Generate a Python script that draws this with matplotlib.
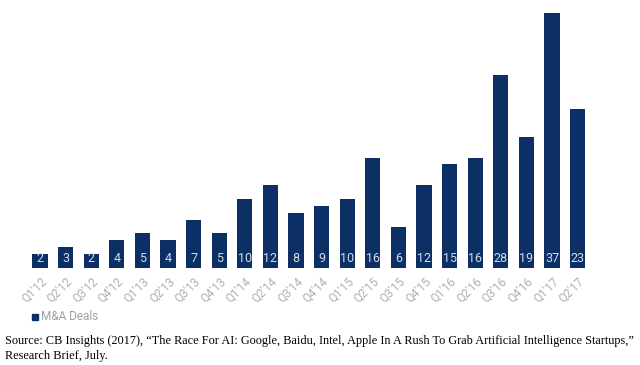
import matplotlib.pyplot as plt

quarters = ["Q1'12", "Q2'12", "Q3'12", "Q4'12", "Q1'13", "Q2'13", "Q3'13", "Q4'13",
            "Q1'14", "Q2'14", "Q3'14", "Q4'14", "Q1'15", "Q2'15", "Q3'15", "Q4'15",
            "Q1'16", "Q2'16", "Q3'16", "Q4'16", "Q1'17", "Q2'17"]
deals = [2, 3, 2, 4, 5, 4, 7, 5, 10, 12, 8, 9, 10, 16, 6, 12, 15, 16, 28, 19, 37, 23]

navy = '#0c3066'

fig = plt.figure(figsize=(6.4, 3.65), dpi=100)
ax = fig.add_axes([0.0425, 0.266, 0.88, 0.699])

x = list(range(len(quarters)))
ax.bar(x, deals, width=0.6, color=navy)
for i, v in enumerate(deals):
    ax.annotate(str(v), (i, 0), xytext=(0, 6.5), textcoords='offset points',
                ha='center', va='center', color='#d5dbe6', fontsize=9, family='Roboto')

ax.set_xlim(-0.5, len(quarters) - 0.5)
ax.set_ylim(0, 37)
ax.set_xticks(x)
ax.set_xticklabels(quarters, rotation=45, ha='right', rotation_mode='anchor',
                   fontsize=8.5, color='#b0b0b0', family='Roboto')
ax.tick_params(axis='x', length=0, pad=5)
ax.set_yticks([])
for s in ax.spines.values():
    s.set_visible(False)

# legend
fig.patches.append(plt.Rectangle((32 / 640, 1 - 320 / 365), 6 / 640, 6 / 365,
                                  transform=fig.transFigure, color=navy))
fig.text(41 / 640, 1 - 317 / 365, 'M&A Deals', fontsize=8.5, color='#a0a0a0',
         family='Roboto', va='center')

fig.text(5 / 640, 1 - 341 / 365,
         'Source: CB Insights (2017), \u201cThe Race For AI: Google, Baidu, Intel, Apple In A Rush '
         'To Grab Artificial Intelligence Startups,\u201d',
         fontsize=8.8, family='Liberation Serif', va='center', color='black')
fig.text(5 / 640, 1 - 356 / 365, 'Research Brief, July.',
         fontsize=8.8, family='Liberation Serif', va='center', color='black')

fig.savefig('out.png', dpi=100)
